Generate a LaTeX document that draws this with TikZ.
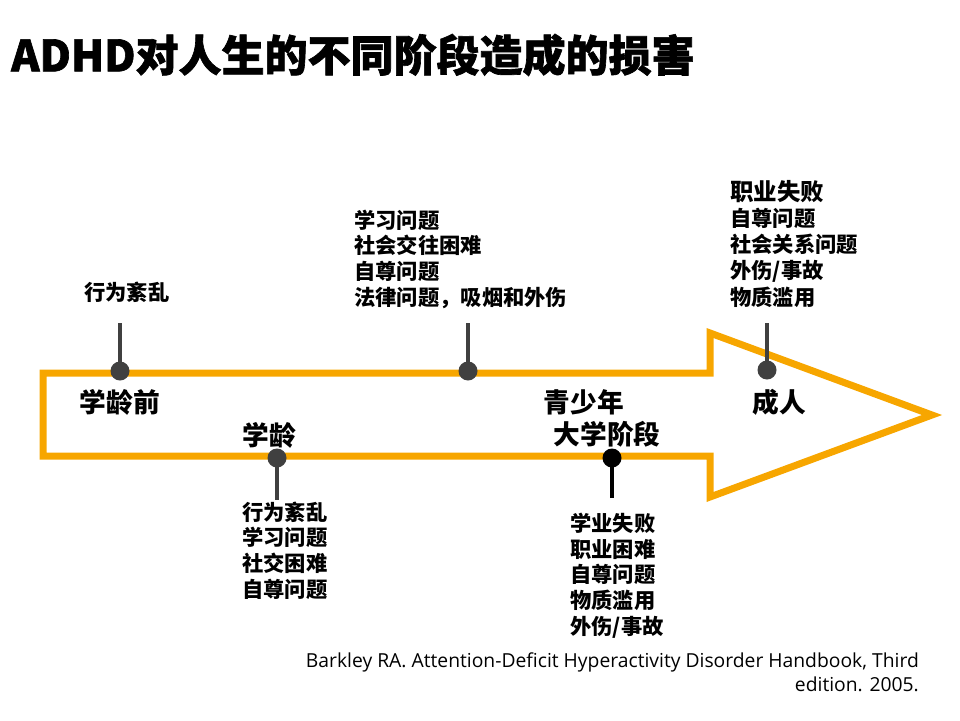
\documentclass[tikz,border=0pt]{standalone}
\usepackage{fontspec}
\setmainfont{Noto Sans CJK SC}
\newfontfamily\titlefont{Noto Sans CJK SC}[BoldFeatures={FakeBold=1.5}]
\newfontfamily\citefont{Open Sans}
\definecolor{arroworange}{RGB}{247,166,0}
\definecolor{dotgrey}{RGB}{64,64,64}
\begin{document}
\begin{tikzpicture}[x=1pt,y=-1pt,
  stage/.style={font=\bfseries\fontsize{26.7}{30}\selectfont,inner sep=0pt},
  detail/.style={font=\bfseries\fontsize{21.3}{25.6}\selectfont,inner sep=0pt,align=left,anchor=base west},
  stem/.style={draw=dotgrey,line width=3.5pt},
  dot/.style={circle,fill=dotgrey,minimum size=19pt,inner sep=0pt},
]
\useasboundingbox (0,0) rectangle (960,720);
% arrow
\draw[arroworange,line width=7pt,line join=miter]
  (43,373) -- (710,373) -- (710,333) -- (932,415) -- (710,497) -- (710,456) -- (43,456) -- cycle;
% title
\node[anchor=west,inner sep=0pt,font=\titlefont\bfseries\fontsize{43}{46}\selectfont] (title) at (11,55) {ADHD对人生的不同阶段造成的损害};
% stems and dots
\coordinate (s1) at (120,323);
\coordinate (c1) at (120,371);
\draw[stem] (s1) -- (c1);
\node[dot] (d1) at (c1) {};

\coordinate (s2) at (277,500);
\coordinate (c2) at (277,458);
\draw[stem] (s2) -- (c2);
\node[dot] (d2) at (c2) {};

\coordinate (s3) at (468,323);
\coordinate (c3) at (468,371);
\draw[stem] (s3) -- (c3);
\node[dot] (d3) at (c3) {};

\coordinate (s4) at (612,498);
\coordinate (c4) at (612,458);
\draw[stem,draw=black] (s4) -- (c4);
\node[dot,fill=black] (d4) at (c4) {};

\coordinate (s5) at (767,323);
\coordinate (c5) at (767,370);
\draw[stem] (s5) -- (c5);
\node[dot] (d5) at (c5) {};
% stage labels
\node[stage] (l1) at (120,402) {学龄前};
\node[stage] (l2) at (269,435) {学龄};
\node[stage] (l3) at (584,402) {青少年};
\node[stage] (l4) at (607,434) {大学阶段};
\node[stage] (l5) at (779,402) {成人};
% details (base anchor = baseline of last line)
\node[detail] (t1) at (84,300) {行为紊乱};
\node[detail] (t2) at (242,597) {行为紊乱\\学习问题\\社交困难\\自尊问题};
\node[detail] (t3) at (354,305) {学习问题\\社会交往困难\\自尊问题\\法律问题，吸烟和外伤};
\node[detail] (t4) at (570,634) {学业失败\\职业困难\\自尊问题\\物质滥用\\外伤/事故};
\node[detail,font=\bfseries\fontsize{21.3}{26.2}\selectfont] (t5) at (730,305) {{\fontsize{23.5}{26}\selectfont 职业失败}\\自尊问题\\社会关系问题\\外伤/事故\\物质滥用};
% citation
\node[anchor=north east,inner sep=0pt,align=right,font=\citefont\fontsize{19.3}{24}\selectfont] (cite) at (919,653) {Barkley RA. Attention-Deficit Hyperactivity Disorder Handbook, Third\\edition. 2005.};
\end{tikzpicture}
\end{document}
